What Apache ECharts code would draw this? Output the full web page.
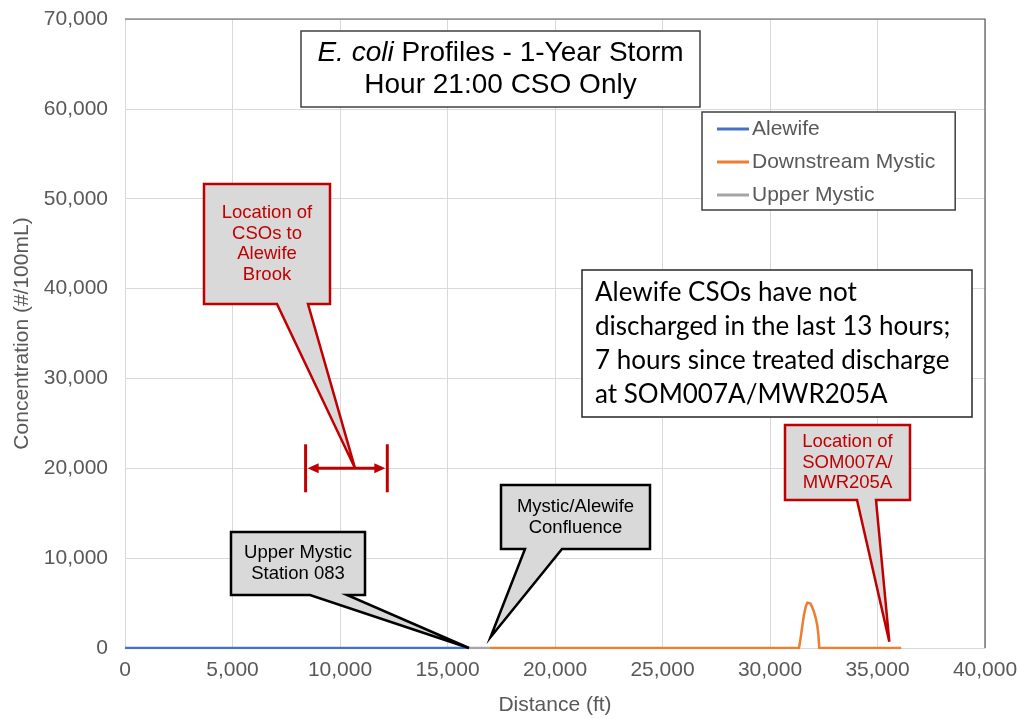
<!DOCTYPE html>
<html>
<head>
<meta charset="utf-8">
<script src="https://cdn.jsdelivr.net/npm/echarts@6/dist/echarts.min.js"></script>
<style>
  html, body { margin: 0; padding: 0; background: #ffffff; }
  #chart { width: 1019px; height: 719px; }
</style>
</head>
<body>
<div id="chart"></div>
<script>
// River profile data: [distance (ft), E. coli concentration (#/100mL)]
const alewife = [[0, 0], [16000, 0]];
const upperMystic = [[16000, 0], [16950, 0]];
const downstreamMystic = [
  [16950, 0], [31350, 0], [31430, 1200], [31500, 2400], [31580, 3700],
  [31660, 4600], [31740, 5050], [31800, 5100], [31880, 4950], [31960, 4550],
  [32050, 4000], [32130, 3300], [32200, 2500], [32250, 1500], [32290, 0],
  [36100, 0]
];

// Axis ranges
const xRange = [0, 40000, 5000];
const yRange = [0, 70000, 10000];

// Annotation anchors in data units
const csoRange = [8400, 12200, 20000];       // extent of Alewife Brook CSOs
const csoTip = [10700, 20000];
const stationTip = [16000, 0];
const confluenceTip = [17000, 1200];
const somTip = [35550, 700];

const FONT = "'Liberation Sans', Arial, sans-serif";
const GREY_TEXT = '#595959';
const RED = '#C00000';

const chart = echarts.init(document.getElementById('chart'));

const fmt = v => v.toLocaleString('en-US');

chart.setOption({
  animation: false,
  backgroundColor: '#ffffff',
  grid: { left: 125, right: 34, top: 19, bottom: 71, containLabel: false, outerBoundsMode: 'none' },
  legend: {
    data: ['Alewife', 'Downstream Mystic', 'Upper Mystic'],
    orient: 'vertical',
    left: 702,
    top: 112,
    padding: [6, 20, 4, 15],
    itemGap: 11,
    itemWidth: 32,
    itemHeight: 3,
    icon: 'rect',
    backgroundColor: '#ffffff',
    borderColor: '#404040',
    borderWidth: 1.5,
    borderRadius: 0,
    textStyle: { fontFamily: FONT, fontSize: 21, color: GREY_TEXT, lineHeight: 22, padding: [0, 0, 0, -2] }
  },
  xAxis: {
    type: 'value',
    min: xRange[0], max: xRange[1], interval: xRange[2],
    name: 'Distance (ft)',
    nameLocation: 'middle',
    nameGap: 47,
    nameTextStyle: { fontFamily: FONT, fontSize: 21, color: GREY_TEXT },
    axisLine: { show: true, lineStyle: { color: '#D9D9D9', width: 1 } },
    axisTick: { show: false },
    axisLabel: { fontFamily: FONT, fontSize: 21, color: GREY_TEXT, margin: 12, formatter: fmt },
    splitLine: { show: true, lineStyle: { color: '#D9D9D9', width: 1 } }
  },
  yAxis: {
    type: 'value',
    min: yRange[0], max: yRange[1], interval: yRange[2],
    name: 'Concentration (#/100mL)',
    nameLocation: 'middle',
    nameRotate: 90,
    nameGap: 91,
    nameTextStyle: { fontFamily: FONT, fontSize: 21, color: GREY_TEXT },
    axisLine: { show: true, lineStyle: { color: '#D9D9D9', width: 1 } },
    axisTick: { show: false },
    axisLabel: { fontFamily: FONT, fontSize: 21, color: GREY_TEXT, margin: 17, formatter: fmt },
    splitLine: { show: true, lineStyle: { color: '#D9D9D9', width: 1 } }
  },
  series: [
    {
      name: 'Alewife', type: 'line', data: alewife, symbol: 'none',
      lineStyle: { color: '#4472C4', width: 2.5 }, itemStyle: { color: '#4472C4' }, z: 3
    },
    {
      name: 'Upper Mystic', type: 'line', data: upperMystic, symbol: 'none',
      lineStyle: { color: '#A5A5A5', width: 2.5 }, itemStyle: { color: '#A5A5A5' }, z: 2
    },
    {
      name: 'Downstream Mystic', type: 'line', data: downstreamMystic, symbol: 'none',
      lineStyle: { color: '#ED7D31', width: 2.5, join: 'round' }, itemStyle: { color: '#ED7D31' }, z: 4
    }
  ]
});

const px = p => chart.convertToPixel({ gridIndex: 0 }, p);

// Callout: a box with a wedge pointer ending at a data point
function callout(box, base, tip, stroke, lines, color, lineHeight) {
  const [x0, y0, x1, y1] = box;
  const t = px(tip);
  return [
    {
      type: 'polygon', z: 100,
      shape: { points: [[x0, y0], [x1, y0], [x1, y1], [base[1], y1], t, [base[0], y1], [x0, y1]] },
      style: { fill: '#D9D9D9', stroke: stroke, lineWidth: 2.5, lineJoin: 'miter' }
    },
    {
      type: 'text', z: 101,
      style: {
        text: lines.join('\n'), x: (x0 + x1) / 2, y: (y0 + y1) / 2,
        align: 'center', verticalAlign: 'middle',
        fontFamily: FONT, fontSize: 18.5, lineHeight: lineHeight, fill: color
      }
    }
  ];
}

const topLeft = px([xRange[0], yRange[1]]);
const topRight = px([xRange[1], yRange[1]]);
const bottomRight = px([xRange[1], yRange[0]]);

const bl = px([csoRange[0], csoRange[2]]);
const br = px([csoRange[1], csoRange[2]]);
const bracketH = 24;

const graphics = [
  // plot-area frame (top and right)
  {
    type: 'polyline', z: 50,
    shape: { points: [topLeft, topRight, bottomRight] },
    style: { stroke: '#595959', lineWidth: 1.2, fill: null }
  },
  // chart title
  {
    type: 'rect', z: 100,
    shape: { x: 301, y: 31, width: 399, height: 76 },
    style: { fill: '#ffffff', stroke: '#404040', lineWidth: 1.5 }
  },
  {
    type: 'text', z: 101,
    style: {
      text: '{i|E. coli} Profiles - 1-Year Storm\nHour 21:00 CSO Only',
      x: 500.5, y: 69, align: 'center', verticalAlign: 'middle',
      fontFamily: FONT, fontSize: 28, lineHeight: 32, fill: '#000000',
      rich: { i: { fontFamily: FONT, fontSize: 28, fontStyle: 'italic', fill: '#000000' } }
    }
  },
  // note box
  {
    type: 'rect', z: 100,
    shape: { x: 582, y: 270, width: 390, height: 147 },
    style: { fill: '#ffffff', stroke: '#262626', lineWidth: 1.5 }
  },
  {
    type: 'text', z: 101,
    style: {
      text: 'Alewife CSOs have not\ndischarged in the last 13 hours;\n7 hours since treated discharge\nat SOM007A/MWR205A',
      x: 595, y: 344, align: 'left', verticalAlign: 'middle',
      fontFamily: "Lato, 'Open Sans', sans-serif", fontSize: 26, lineHeight: 34, fill: '#000000'
    }
  },
  // CSO extent bracket
  {
    type: 'line', z: 100,
    shape: { x1: bl[0], y1: bl[1] - bracketH, x2: bl[0], y2: bl[1] + bracketH },
    style: { stroke: RED, lineWidth: 3 }
  },
  {
    type: 'line', z: 100,
    shape: { x1: br[0], y1: br[1] - bracketH, x2: br[0], y2: br[1] + bracketH },
    style: { stroke: RED, lineWidth: 3 }
  },
  {
    type: 'line', z: 100,
    shape: { x1: bl[0] + 6, y1: bl[1], x2: br[0] - 6, y2: br[1] },
    style: { stroke: RED, lineWidth: 3 }
  },
  {
    type: 'polygon', z: 100,
    shape: { points: [[bl[0] + 2, bl[1]], [bl[0] + 13, bl[1] - 5], [bl[0] + 13, bl[1] + 5]] },
    style: { fill: RED }
  },
  {
    type: 'polygon', z: 100,
    shape: { points: [[br[0] - 2, br[1]], [br[0] - 13, br[1] - 5], [br[0] - 13, br[1] + 5]] },
    style: { fill: RED }
  }
]
  .concat(callout([204, 184, 330, 304], [277, 308], csoTip, RED,
    ['Location of', 'CSOs to', 'Alewife', 'Brook'], RED, 20.5))
  .concat(callout([231, 532, 365, 595], [310, 347], stationTip, '#000000',
    ['Upper Mystic', 'Station 083'], '#000000', 21))
  .concat(callout([501, 485, 650, 549], [525, 562], confluenceTip, '#000000',
    ['Mystic/Alewife', 'Confluence'], '#000000', 21))
  .concat(callout([785, 425, 910, 500], [857, 876], somTip, RED,
    ['Location of', 'SOM007A/', 'MWR205A'], RED, 20.5));

chart.setOption({ graphic: graphics });
</script>
</body>
</html>
